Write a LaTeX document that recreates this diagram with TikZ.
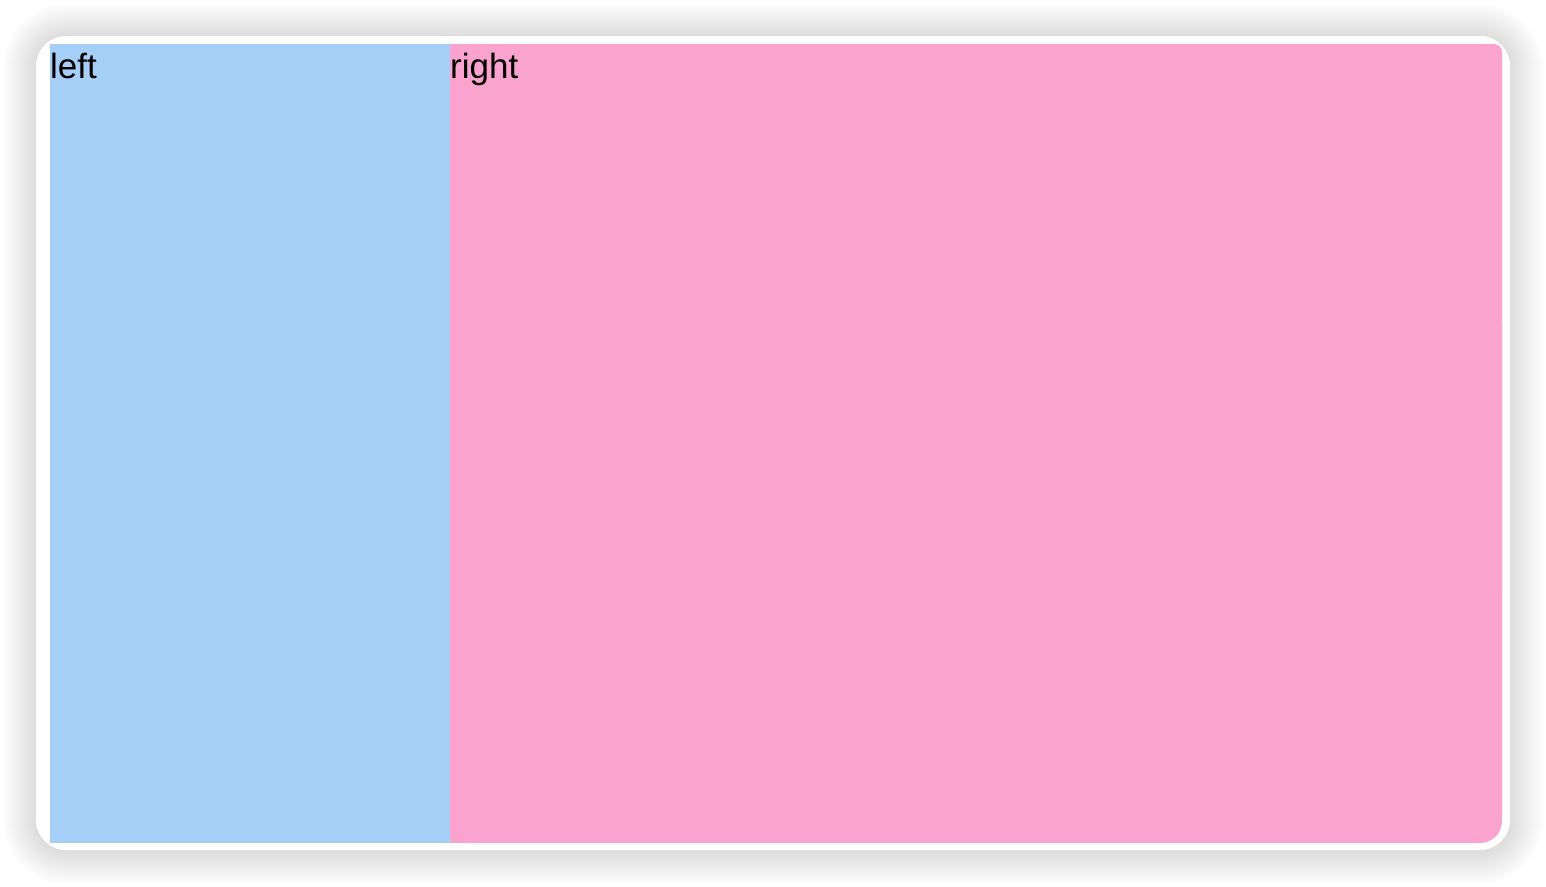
\documentclass[tikz,border=0pt]{standalone}
\usepackage{fontspec}
\setmainfont{Liberation Sans}
\definecolor{leftblue}{RGB}{166,207,248}
\definecolor{rightpink}{RGB}{250,163,207}
\begin{document}
\begin{tikzpicture}[x=1pt,y=-1pt,
  lbl/.style={anchor=base west,inner sep=0pt,font=\fontsize{35}{40}\selectfont,text=black}]
\useasboundingbox (0,0) rectangle (1546,886);
\fill[white] (0,0) rectangle (1546,886);
% shadow
\foreach \i in {1,...,34}{
  \fill[black,opacity=0.0045,rounded corners={30+\i}] (36-\i,37-\i) rectangle (1510+\i,851+\i);
}
% card
\fill[white,rounded corners=30] (36,36) rectangle (1510,850);
% left pane
\fill[leftblue] (50,44) rectangle (450,843);
% right pane
\fill[rightpink,rounded corners=8] (450,44) rectangle (1502,600);
\fill[rightpink,rounded corners=22] (450,300) rectangle (1502,843);
\fill[rightpink] (450,44) rectangle (1100,843);
\node[lbl] (leftlabel) at (50,78) {left};
\node[lbl] (rightlabel) at (450,78) {right};
\end{tikzpicture}
\end{document}
